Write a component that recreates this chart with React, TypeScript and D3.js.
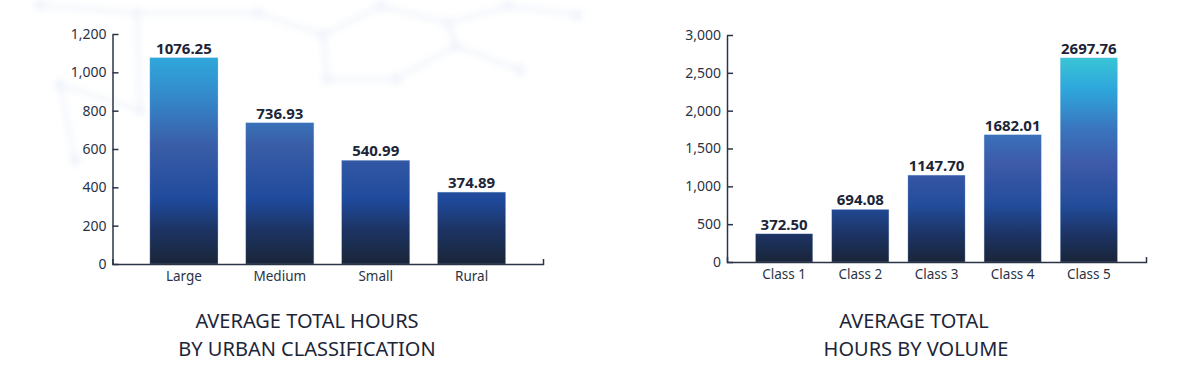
import React, { useRef, useEffect } from 'react';
import * as d3 from 'd3';

// Left chart: urban classification
const urbanCategories = ['Large', 'Medium', 'Small', 'Rural'];
const urbanValues = [1076.25, 736.93, 540.99, 374.89];
const urbanTicks = [0, 200, 400, 600, 800, 1000, 1200];
const urbanTitle = ['AVERAGE TOTAL HOURS', 'BY URBAN CLASSIFICATION'];

// Right chart: volume class
const volumeCategories = ['Class 1', 'Class 2', 'Class 3', 'Class 4', 'Class 5'];
const volumeValues = [372.5, 694.08, 1147.7, 1682.01, 2697.76];
const volumeTicks = [0, 500, 1000, 1500, 2000, 2500, 3000];
const volumeTitle = ['AVERAGE TOTAL', 'HOURS BY VOLUME'];

const TEXT = '#1c2538';
const AXIS = '#2b3447';
const FONT = '"Noto Sans", "Open Sans", sans-serif';

interface ChartCfg {
  id: string;
  categories: string[];
  values: number[];
  ticks: number[];
  title: string[];
  left: number;
  right: number;
  top: number;
  bottom: number;
  paddingInner: number;
  paddingOuter: number;
  titleX: number[];
  stops: [number, string][];
}

const charts: ChartCfg[] = [
  {
    id: 'urban',
    categories: urbanCategories,
    values: urbanValues,
    ticks: urbanTicks,
    title: urbanTitle,
    left: 112.5,
    right: 543,
    top: 34,
    bottom: 264,
    paddingInner: 0.29,
    paddingOuter: 0.39,
    titleX: [307, 307],
    stops: [
      [0, '#2fb0de'],
      [0.09, '#2eaadc'],
      [0.29, '#3485c8'],
      [0.48, '#3a5ea8'],
      [0.72, '#1f4a9b'],
      [0.85, '#1c3464'],
      [1, '#1a2538'],
    ],
  },
  {
    id: 'volume',
    categories: volumeCategories,
    values: volumeValues,
    ticks: volumeTicks,
    title: volumeTitle,
    left: 727,
    right: 1146,
    top: 35,
    bottom: 262,
    paddingInner: 0.25,
    paddingOuter: 0.375,
    titleX: [914, 916],
    stops: [
      [0, '#3acbd3'],
      [0.1, '#38c5d5'],
      [0.24, '#2ea6dc'],
      [0.42, '#3a73bd'],
      [0.57, '#3d5aa8'],
      [0.75, '#224c9a'],
      [0.88, '#1c3364'],
      [1, '#1a2538'],
    ],
  },
];

// faint decorative network in the top-left background
const netNodes: [number, number][] = [
  [40, 5], [137, 13], [258, 13], [323, 35], [381, 6], [448, 23], [508, 6], [577, 15],
  [456, 46], [327, 79], [396, 79], [60, 85], [75, 160], [140, 110], [520, 70],
];
const netLinks: [number, number][] = [
  [0, 1], [1, 2], [2, 3], [3, 4], [4, 5], [5, 6], [6, 7], [5, 8], [3, 9], [9, 10],
  [10, 8], [8, 14], [11, 12], [11, 13], [1, 13],
];

function drawChart(root: d3.Selection<SVGSVGElement, unknown, null, undefined>, cfg: ChartCfg) {
  const g = root.append('g');

  const y = d3.scaleLinear()
    .domain([0, d3.max(cfg.ticks) as number])
    .range([cfg.bottom, cfg.top]);

  const x = d3.scaleBand()
    .domain(cfg.categories)
    .range([cfg.left, cfg.right])
    .paddingInner(cfg.paddingInner)
    .paddingOuter(cfg.paddingOuter);

  const grad = root.select('defs').append('linearGradient')
    .attr('id', `grad-${cfg.id}`)
    .attr('gradientUnits', 'userSpaceOnUse')
    .attr('x1', 0).attr('x2', 0)
    .attr('y1', cfg.top).attr('y2', cfg.bottom);
  cfg.stops.forEach(([o, c]) => {
    grad.append('stop').attr('offset', o).attr('stop-color', c);
  });

  // bars
  g.selectAll('rect.bar')
    .data(cfg.values)
    .enter()
    .append('rect')
    .attr('class', 'bar')
    .attr('x', (_, i) => x(cfg.categories[i]) || 0)
    .attr('y', d => y(d))
    .attr('width', x.bandwidth())
    .attr('height', d => cfg.bottom - y(d))
    .attr('fill', `url(#grad-${cfg.id})`)
    .attr('stroke', '#9fc0ea')
    .attr('stroke-opacity', 0.5)
    .attr('stroke-width', 0.6);

  // value labels
  g.selectAll('text.val')
    .data(cfg.values)
    .enter()
    .append('text')
    .attr('class', 'val')
    .attr('x', (_, i) => (x(cfg.categories[i]) || 0) + x.bandwidth() / 2)
    .attr('y', d => y(d) - 4)
    .attr('text-anchor', 'middle')
    .attr('font-family', FONT)
    .attr('font-weight', 700)
    .attr('font-size', 15)
    .attr('fill', TEXT)
    .text(d => d.toFixed(2));

  // y axis, ticks pointing inward
  const yAxis = g.append('g')
    .attr('transform', `translate(${cfg.left},0)`)
    .call(d3.axisLeft(y)
      .tickValues(cfg.ticks)
      .tickSize(-6)
      .tickSizeOuter(0)
      .tickPadding(6)
      .tickFormat(d3.format(',')));
  yAxis.selectAll('line').attr('stroke', AXIS).attr('stroke-width', 1.5);
  yAxis.select('.domain').attr('stroke', AXIS).attr('stroke-width', 1.5);
  yAxis.selectAll('text')
    .attr('font-family', FONT)
    .attr('font-size', 14)
    .attr('fill', '#2a3345');

  // x axis
  const xAxis = g.append('g')
    .attr('transform', `translate(0,${cfg.bottom})`)
    .call(d3.axisBottom(x).tickSizeInner(0).tickSizeOuter(-5).tickPadding(7));
  xAxis.select('.domain').attr('stroke', AXIS).attr('stroke-width', 1.5);
  xAxis.selectAll('text')
    .attr('font-family', FONT)
    .attr('font-size', 13.5)
    .attr('fill', '#2a3345');

  // title
  cfg.title.forEach((line, i) => {
    g.append('text')
      .attr('x', cfg.titleX[i])
      .attr('y', 328 + i * 28)
      .attr('text-anchor', 'middle')
      .attr('font-family', FONT)
      .attr('font-size', 20)
      .attr('fill', TEXT)
      .text(line);
  });
}

export default function App() {
  const svgRef = useRef<SVGSVGElement>(null);

  useEffect(() => {
    if (!svgRef.current) return;
    const svg = d3.select(svgRef.current);
    svg.selectAll('*').remove();

    const defs = svg.append('defs');
    defs.append('filter')
      .attr('id', 'soft')
      .append('feGaussianBlur')
      .attr('stdDeviation', 3);

    svg.append('rect')
      .attr('width', 1200).attr('height', 373)
      .attr('fill', '#ffffff');

    // background decoration
    const net = svg.append('g')
      .attr('filter', 'url(#soft)')
      .attr('opacity', 0.3);
    net.selectAll('line')
      .data(netLinks)
      .enter()
      .append('line')
      .attr('x1', d => netNodes[d[0]][0])
      .attr('y1', d => netNodes[d[0]][1])
      .attr('x2', d => netNodes[d[1]][0])
      .attr('y2', d => netNodes[d[1]][1])
      .attr('stroke', '#d6e2f3')
      .attr('stroke-width', 5);
    net.selectAll('circle')
      .data(netNodes)
      .enter()
      .append('circle')
      .attr('cx', d => d[0])
      .attr('cy', d => d[1])
      .attr('r', 6)
      .attr('fill', '#cfdcf0');

    charts.forEach(c => drawChart(svg, c));
  }, []);

  return (
    <div style={{ position: 'absolute', left: 0, top: 0, width: 1200, height: 373 }}>
      <svg ref={svgRef} width={1200} height={373} style={{ display: 'block' }} />
    </div>
  );
}
